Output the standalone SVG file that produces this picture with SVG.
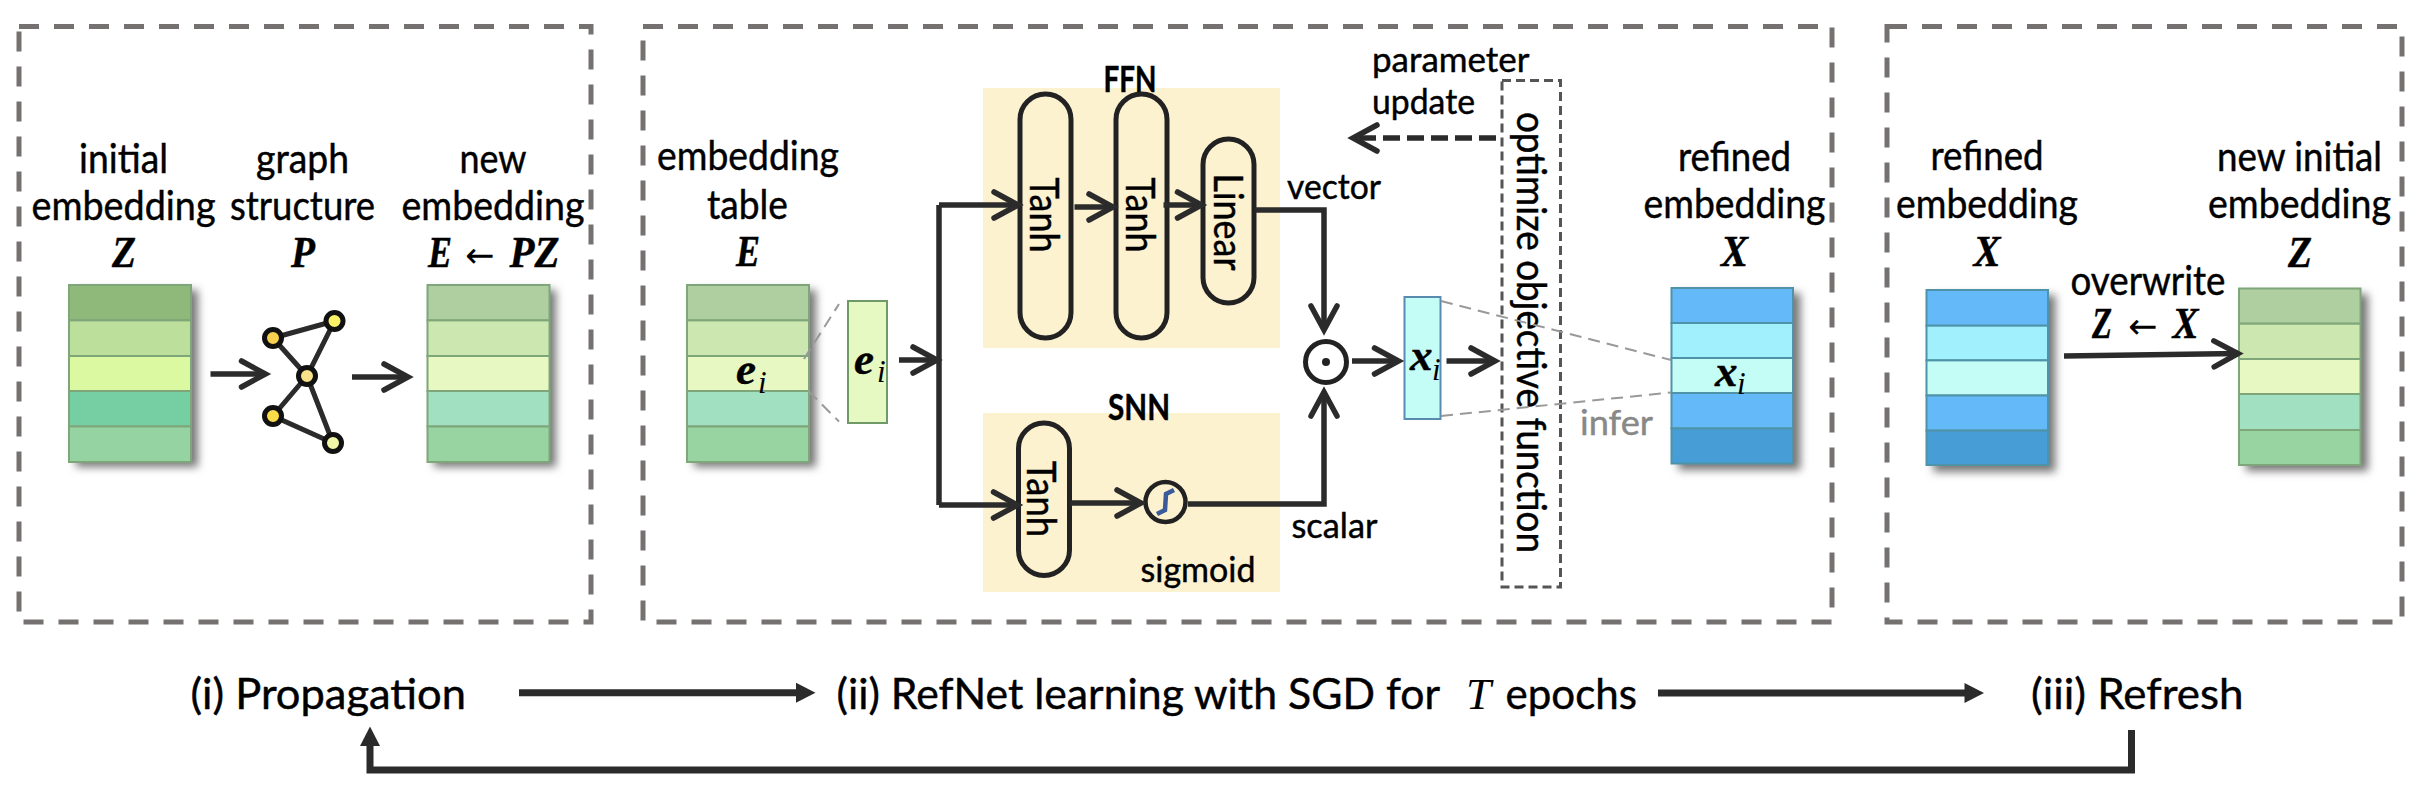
<svg xmlns="http://www.w3.org/2000/svg" width="2430" height="790" viewBox="0 0 2430 790">
<style>
text{fill:#000;stroke:#000;stroke-width:.45;font-family:"Lato","Open Sans",sans-serif;font-size:40px}
.c{text-anchor:middle}
.b{font-weight:700;font-size:36px}
.s{font-size:35px}
.p{font-size:43px}
.m{font-family:"Liberation Serif",serif;font-weight:700;font-style:italic;font-size:45px}
.i{font-family:"Liberation Serif",serif;font-style:italic;font-size:31px;stroke-width:0}
.a{font-family:"DejaVu Sans",sans-serif;font-size:35px;stroke-width:0}
.panel{fill:none;stroke:#767171;stroke-width:5;stroke-dasharray:20 15}
.conn{fill:none;stroke:#2b2b2b;stroke-width:5.5;marker-end:url(#open)}
.thick{fill:none;stroke:#2b2b2b;stroke-width:7}
.g{stroke:#7fa67a;stroke-width:2}
.u{stroke:#4f93a8;stroke-width:2}
.pill{fill:none;stroke:#222;stroke-width:5}
.bg{fill:#fdf2d0}
.guide{fill:none;stroke:#999;stroke-width:2;stroke-dasharray:12 7}
</style>
<defs>
<marker id="open" markerUnits="userSpaceOnUse" markerWidth="40" markerHeight="40" refX="30" refY="20" orient="auto" overflow="visible">
<path d="M6,7 L30,20 L6,33" fill="none" stroke="#2b2b2b" stroke-width="5.5" stroke-linecap="round"/>
</marker>
<filter id="sh" x="-20%" y="-10%" width="150%" height="125%">
<feGaussianBlur stdDeviation="4.5"/>
</filter>
</defs>
<rect width="2430" height="790" fill="#fff"/>

<g id="panel-propagation"><rect class="panel" x="19" y="26.5" width="572" height="595.5"/></g>
<g id="panel-refnet"><rect class="panel" x="643" y="26.5" width="1189" height="595.5"/></g>
<g id="panel-refresh"><rect class="panel" x="1887" y="26.5" width="515" height="595.5"/></g>

<g id="bg-ffn"><rect class="bg" x="983" y="88" width="297" height="260"/></g>
<g id="bg-snn"><rect class="bg" x="983" y="413" width="297" height="179"/></g>

<g id="stack-z">
<rect x="76" y="290" width="122" height="177" fill="#777" filter="url(#sh)"/>
<rect class="g" x="69" y="285" width="122" height="35.4" fill="#8fb97b"/>
<rect class="g" x="69" y="320.4" width="122" height="35.6" fill="#bce09c"/>
<rect class="g" x="69" y="356" width="122" height="35" fill="#dbf9a0"/>
<rect class="g" x="69" y="391" width="122" height="35.5" fill="#75cfa3"/>
<rect class="g" x="69" y="426.5" width="122" height="35.5" fill="#96d3a2"/>
</g>
<g id="stack-e-new">
<rect x="434" y="290" width="122" height="177" fill="#777" filter="url(#sh)"/>
<rect class="g" x="427.5" y="285" width="122" height="35.4" fill="#afcfa0"/>
<rect class="g" x="427.5" y="320.4" width="122" height="35.6" fill="#cce7b0"/>
<rect class="g" x="427.5" y="356" width="122" height="35" fill="#e8f8c2"/>
<rect class="g" x="427.5" y="391" width="122" height="35.5" fill="#a1e0c0"/>
<rect class="g" x="427.5" y="426.5" width="122" height="35.5" fill="#98d3a2"/>
</g>
<g id="graph-p">
<path d="M273,338 L334.5,321 L307,376 L273,338 M307,376 L273,416 L333,443 L307,376" fill="none" stroke="#2b2b2b" stroke-width="5"/>
<circle cx="273" cy="338" r="8.5" fill="#f7d050" stroke="#111" stroke-width="5"/>
<circle cx="334.5" cy="321" r="8.5" fill="#fbf268" stroke="#111" stroke-width="5"/>
<circle cx="307" cy="376" r="8.5" fill="#f9e28a" stroke="#111" stroke-width="5"/>
<circle cx="273" cy="416" r="8.5" fill="#f9dc48" stroke="#111" stroke-width="5"/>
<circle cx="333" cy="443" r="8.5" fill="#f0f8a8" stroke="#111" stroke-width="5"/>
</g>
<g id="labels-propagation">
<text class="c" x="123.5" y="173" textLength="89" lengthAdjust="spacingAndGlyphs">initial</text>
<text class="c" x="123.5" y="220" textLength="184" lengthAdjust="spacingAndGlyphs">embedding</text>
<text class="m c" x="124" y="267" textLength="24" lengthAdjust="spacingAndGlyphs">Z</text>
<text class="c" x="302.5" y="173" textLength="93" lengthAdjust="spacingAndGlyphs">graph</text>
<text class="c" x="302.5" y="220" textLength="145" lengthAdjust="spacingAndGlyphs">structure</text>
<text class="m c" x="303" y="267" textLength="24" lengthAdjust="spacingAndGlyphs">P</text>
<text class="c" x="493" y="173" textLength="67" lengthAdjust="spacingAndGlyphs">new</text>
<text class="c" x="493" y="220" textLength="183" lengthAdjust="spacingAndGlyphs">embedding</text>
<text class="m" x="428" y="267" textLength="24" lengthAdjust="spacingAndGlyphs">E</text>
<text class="a" x="465" y="267">←</text>
<text class="m" x="509.5" y="267" textLength="50" lengthAdjust="spacingAndGlyphs">PZ</text>
</g>

<g id="stack-e">
<rect x="694" y="290" width="122" height="177" fill="#777" filter="url(#sh)"/>
<rect class="g" x="687" y="285" width="122" height="35.4" fill="#afcfa0"/>
<rect class="g" x="687" y="320.4" width="122" height="35.6" fill="#cce7b0"/>
<rect class="g" x="687" y="356" width="122" height="35" fill="#e8f8c2"/>
<rect class="g" x="687" y="391" width="122" height="35.5" fill="#a1e0c0"/>
<rect class="g" x="687" y="426.5" width="122" height="35.5" fill="#98d3a2"/>
<text class="m" x="736" y="384">e</text><text class="i" x="758" y="393">i</text>
<text class="c" x="748" y="169.5" textLength="182" lengthAdjust="spacingAndGlyphs">embedding</text>
<text class="c" x="747.5" y="218.5" textLength="81" lengthAdjust="spacingAndGlyphs">table</text>
<text class="m c" x="748" y="266" textLength="24" lengthAdjust="spacingAndGlyphs">E</text>
</g>
<g id="vector-e">
<rect x="848" y="301" width="39" height="122" fill="#e6f9c2" stroke="#6f9a68" stroke-width="2"/>
<text class="m" x="854" y="373.5">e</text><text class="i" x="877" y="382">i</text>
</g>
<g id="ffn">
<text class="b c" x="1130" y="92" textLength="53" lengthAdjust="spacingAndGlyphs">FFN</text>
<rect class="pill" x="1020" y="94" width="51" height="244" rx="25.5"/>
<text class="c" transform="translate(1029.5 215) rotate(90)" textLength="75" lengthAdjust="spacingAndGlyphs">Tanh</text>
<rect class="pill" x="1116" y="94" width="51" height="244" rx="25.5"/>
<text class="c" transform="translate(1125.5 215) rotate(90)" textLength="75" lengthAdjust="spacingAndGlyphs">Tanh</text>
<rect class="pill" x="1203" y="139" width="51" height="164" rx="25.5"/>
<text class="c" transform="translate(1214 222) rotate(90)" textLength="97" lengthAdjust="spacingAndGlyphs">Linear</text>
</g>
<g id="snn">
<text class="b c" x="1139" y="420" textLength="62" lengthAdjust="spacingAndGlyphs">SNN</text>
<rect class="pill" x="1018.5" y="423" width="51" height="152.5" rx="25.5"/>
<text class="c" transform="translate(1027 499) rotate(90)" textLength="76" lengthAdjust="spacingAndGlyphs">Tanh</text>
</g>
<g id="sigmoid">
<circle cx="1165.5" cy="502" r="20" fill="none" stroke="#222" stroke-width="4.5"/>
<path d="M1157,514 L1165,510 L1166,494 L1174,490" fill="none" stroke="#3a5a9a" stroke-width="4.5"/>
<text class="s c" x="1198" y="581.5" textLength="115" lengthAdjust="spacingAndGlyphs">sigmoid</text>
</g>
<g id="hadamard">
<circle cx="1326" cy="362" r="20.5" fill="none" stroke="#222" stroke-width="5"/>
<circle cx="1326" cy="362" r="4" fill="#222"/>
</g>
<g id="vector-x">
<rect x="1404.5" y="297" width="36" height="122" fill="#c4fdf5" stroke="#5a8ab0" stroke-width="2"/>
<text class="m" x="1410" y="370">x</text><text class="i" x="1432" y="380">i</text>
</g>
<g id="objective">
<rect x="1502" y="80.5" width="58.5" height="506.5" fill="none" stroke="#555" stroke-width="3" stroke-dasharray="9 5"/>
<text class="c" transform="translate(1517 332.5) rotate(90)" textLength="441" lengthAdjust="spacingAndGlyphs">optimize objective function</text>
</g>
<g id="stack-x">
<rect x="1678.5" y="293" width="122" height="177" fill="#777" filter="url(#sh)"/>
<rect class="u" x="1671.5" y="288" width="121.5" height="35" fill="#64baf8"/>
<rect class="u" x="1671.5" y="323" width="121.5" height="35" fill="#a0f0fd"/>
<rect class="u" x="1671.5" y="358" width="121.5" height="35" fill="#c4fdf5"/>
<rect class="u" x="1671.5" y="393" width="121.5" height="35.5" fill="#64baf8"/>
<rect class="u" x="1671.5" y="428.5" width="121.5" height="35" fill="#479dd6"/>
<text class="m" x="1715" y="386">x</text><text class="i" x="1737" y="394">i</text>
<text class="c" x="1734.5" y="170.5" textLength="113" lengthAdjust="spacingAndGlyphs">refined</text>
<text class="c" x="1734.5" y="218" textLength="182" lengthAdjust="spacingAndGlyphs">embedding</text>
<text class="m c" x="1734.5" y="266" textLength="27" lengthAdjust="spacingAndGlyphs">X</text>
</g>

<g id="stack-x-refresh">
<rect x="1933.5" y="295" width="122" height="177" fill="#777" filter="url(#sh)"/>
<rect class="u" x="1926.5" y="290" width="121.5" height="35.7" fill="#64baf8"/>
<rect class="u" x="1926.5" y="325.7" width="121.5" height="34.7" fill="#a0f0fd"/>
<rect class="u" x="1926.5" y="360.4" width="121.5" height="35.1" fill="#c4fdf5"/>
<rect class="u" x="1926.5" y="395.5" width="121.5" height="35.1" fill="#64baf8"/>
<rect class="u" x="1926.5" y="430.6" width="121.5" height="34.4" fill="#479dd6"/>
<text class="c" x="1987" y="170" textLength="113" lengthAdjust="spacingAndGlyphs">refined</text>
<text class="c" x="1987" y="218" textLength="182" lengthAdjust="spacingAndGlyphs">embedding</text>
<text class="m c" x="1987" y="266" textLength="27" lengthAdjust="spacingAndGlyphs">X</text>
</g>
<g id="stack-z-refresh">
<rect x="2246" y="294" width="122" height="177" fill="#777" filter="url(#sh)"/>
<rect class="g" x="2239" y="288.5" width="121.5" height="35.2" fill="#afcfa0"/>
<rect class="g" x="2239" y="323.7" width="121.5" height="35.3" fill="#cce7b0"/>
<rect class="g" x="2239" y="359" width="121.5" height="35" fill="#e8f8c2"/>
<rect class="g" x="2239" y="394" width="121.5" height="36" fill="#a1e0c0"/>
<rect class="g" x="2239" y="430" width="121.5" height="35" fill="#98d3a2"/>
<text class="c" x="2299.5" y="170.5" textLength="165" lengthAdjust="spacingAndGlyphs">new initial</text>
<text class="c" x="2299.5" y="218" textLength="183" lengthAdjust="spacingAndGlyphs">embedding</text>
<text class="m c" x="2300" y="267" textLength="24" lengthAdjust="spacingAndGlyphs">Z</text>
</g>
<g id="label-overwrite">
<text class="c" x="2148" y="295" textLength="155" lengthAdjust="spacingAndGlyphs">overwrite</text>
<text class="m" x="2092" y="338" textLength="20" lengthAdjust="spacingAndGlyphs">Z</text>
<text class="a" x="2128" y="338">←</text>
<text class="m" x="2172.5" y="338" textLength="26" lengthAdjust="spacingAndGlyphs">X</text>
</g>
<g id="labels-refnet">
<text x="1287" y="199" textLength="94" lengthAdjust="spacingAndGlyphs" class="s">vector</text>
<text x="1291.5" y="538" textLength="86" lengthAdjust="spacingAndGlyphs" class="s">scalar</text>
<text x="1372" y="71.5" textLength="157.5" lengthAdjust="spacingAndGlyphs" class="s">parameter</text>
<text x="1372" y="114" textLength="103" lengthAdjust="spacingAndGlyphs" class="s">update</text>
<text x="1580" y="435" textLength="73" lengthAdjust="spacingAndGlyphs" class="s" style="fill:#888;stroke:#888">infer</text>
</g>
<g id="phase-labels">
<text class="p" x="190.5" y="709" textLength="275.5" lengthAdjust="spacingAndGlyphs">(i) Propagation</text>
<text class="p" x="836.5" y="709" textLength="603.5" lengthAdjust="spacingAndGlyphs">(ii) RefNet learning with SGD for</text>
<text x="1466" y="709" textLength="25" lengthAdjust="spacingAndGlyphs" style="font-family:'Liberation Serif',serif;font-style:italic;font-size:44px;stroke-width:0">T</text>
<text class="p" x="1505.5" y="709" textLength="131.5" lengthAdjust="spacingAndGlyphs">epochs</text>
<text class="p" x="2031" y="709" textLength="212.5" lengthAdjust="spacingAndGlyphs">(iii) Refresh</text>
</g>

<g id="connectors">
<path class="guide" d="M804,359 L839,304 M808.5,391 L839,421.5"/>
<path class="guide" d="M1441,301 L1671,360 M1441,416 L1671,392.5"/>
<path class="conn" d="M210.5,374 H265.5"/>
<path class="conn" d="M352,377 H408"/>
<path class="conn" d="M899,360 H937"/>
<path class="conn" d="M939,205 V505" style="marker-end:none"/>
<path class="conn" d="M939,205 H1018"/>
<path class="conn" d="M939,505 H1017.5"/>
<path class="conn" d="M1074.5,207 H1113"/>
<path class="conn" d="M1163.5,205 H1201.5"/>
<path class="conn" d="M1255,210 H1324 V330"/>
<path class="conn" d="M1070,503 H1141"/>
<path class="conn" d="M1188,504 H1324 V392"/>
<path class="conn" d="M1352,361 H1398.5"/>
<path class="conn" d="M1446.5,361 H1495"/>
<path class="conn" d="M1496,138 H1353" stroke-dasharray="17 7"/>
<path class="conn" d="M2064,356 L2238,353.5"/>
<path class="thick" d="M519,692.7 H800"/><path d="M796,682.7 L815.5,692.7 L796,702.7 Z" fill="#2b2b2b"/>
<path class="thick" d="M1658,693 H1968"/><path d="M1964.5,683 L1984,693 L1964.5,703 Z" fill="#2b2b2b"/>
<path class="thick" d="M2131.5,730 V770 H370 V742"/><path d="M360,746 L370,726.5 L380,746 Z" fill="#2b2b2b"/>
</g>
</svg>
